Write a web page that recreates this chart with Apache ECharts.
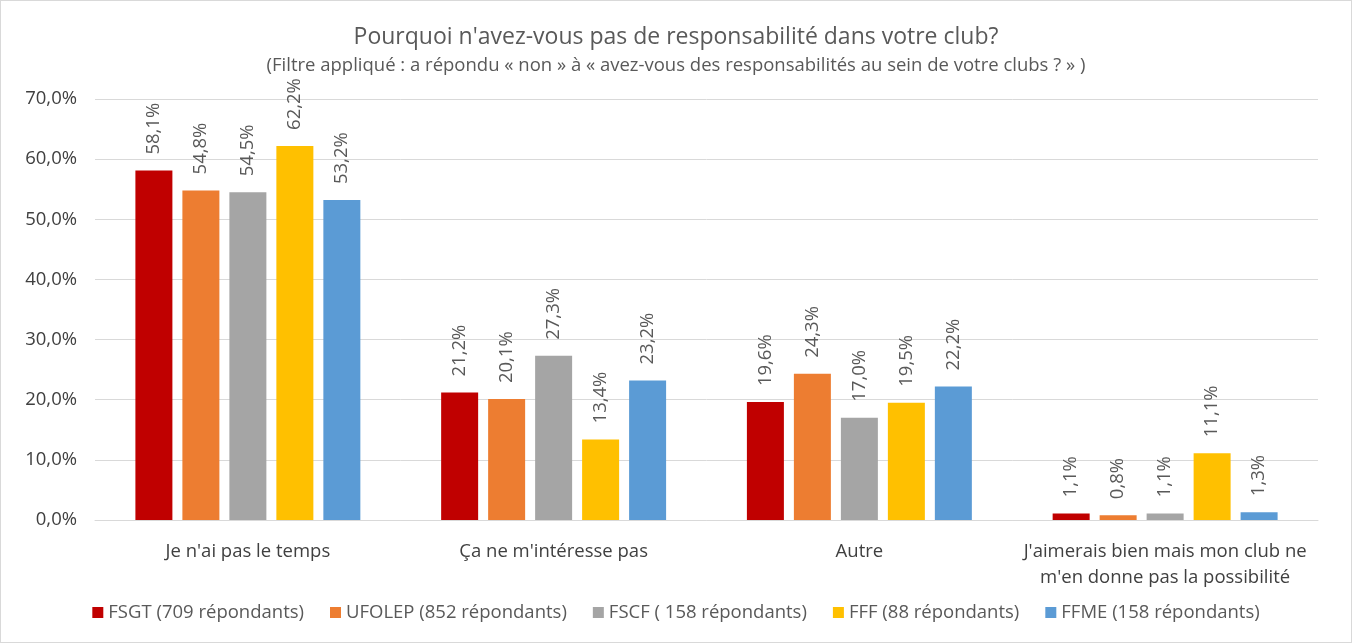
<!DOCTYPE html>
<html><head><meta charset="utf-8">
<script src="https://cdn.jsdelivr.net/npm/echarts@6/dist/echarts.min.js"></script>
<style>html,body{margin:0;padding:0;background:#fff}#c{width:1352px;height:643px;box-sizing:border-box;border:1px solid #d9d9d9;}</style>
</head><body><div id="c"></div>
<script>
const categories = ["Je n'ai pas le temps", "Ça ne m'intéresse pas", "Autre", "J'aimerais bien mais mon club ne\nm'en donne pas la possibilité"];
const seriesNames = ["FSGT (709 répondants)", "UFOLEP (852 répondants)", "FSCF ( 158 répondants)", "FFF (88 répondants)", "FFME (158 répondants)"];
const fsgt = [58.1, 21.2, 19.6, 1.1];
const ufolep = [54.8, 20.1, 24.3, 0.8];
const fscf = [54.5, 27.3, 17.0, 1.1];
const fff = [62.2, 13.4, 19.5, 11.1];
const ffme = [53.2, 23.2, 22.2, 1.3];
const colors = ["#C00000", "#ED7D31", "#A5A5A5", "#FFC000", "#5B9BD5"];
const values = [fsgt, ufolep, fscf, fff, ffme];
const font = "'Open Sans', 'Noto Sans', sans-serif";
const fmt = v => v.toFixed(1).replace('.', ',') + '%';
const chart = echarts.init(document.getElementById('c'));
chart.setOption({
  animation: false,
  textStyle: {fontFamily: font},
  title: {
    text: "Pourquoi n'avez-vous pas de responsabilité dans votre club?",
    subtext: "(Filtre appliqué : a répondu « non » à « avez-vous des responsabilités au sein de votre clubs ? » )",
    left: 'center', top: 20, itemGap: 7,
    textStyle: {fontFamily: font, fontSize: 23, fontWeight: 'normal', color: '#595959'},
    subtextStyle: {fontFamily: font, fontSize: 18.5, color: '#595959'}
  },
  legend: {
    data: seriesNames, bottom: 15, left: 'center', itemWidth: 11, itemHeight: 11, itemGap: 26,
    icon: 'rect',
    textStyle: {fontFamily: font, fontSize: 18.5, color: '#595959'}
  },
  grid: {left: 94, right: 33, top: 98, bottom: 122, containLabel: false},
  xAxis: {
    type: 'category', data: categories,
    axisLine: {lineStyle: {color: '#d9d9d9'}}, axisTick: {show: false},
    axisLabel: {interval: 0, fontFamily: font, fontSize: 18.5, color: '#404040', margin: 19, lineHeight: 26}
  },
  yAxis: {
    type: 'value', min: 0, max: 70, interval: 10,
    axisLabel: {formatter: v => v.toFixed(1).replace('.', ',') + '%', fontFamily: font, fontSize: 18.5, color: '#404040', margin: 18},
    splitLine: {lineStyle: {color: '#d9d9d9'}}, axisLine: {show: false}, axisTick: {show: false}
  },
  series: values.map((d, i) => ({
    name: seriesNames[i], type: 'bar', data: d, barWidth: 37, barGap: '27%',
    itemStyle: {color: colors[i]},
    label: {show: true, position: 'top', rotate: 90, align: 'left', verticalAlign: 'middle', distance: 16,
      formatter: p => fmt(p.value), fontFamily: font, fontSize: 18.5, color: '#595959'}
  }))
});
</script></body></html>
